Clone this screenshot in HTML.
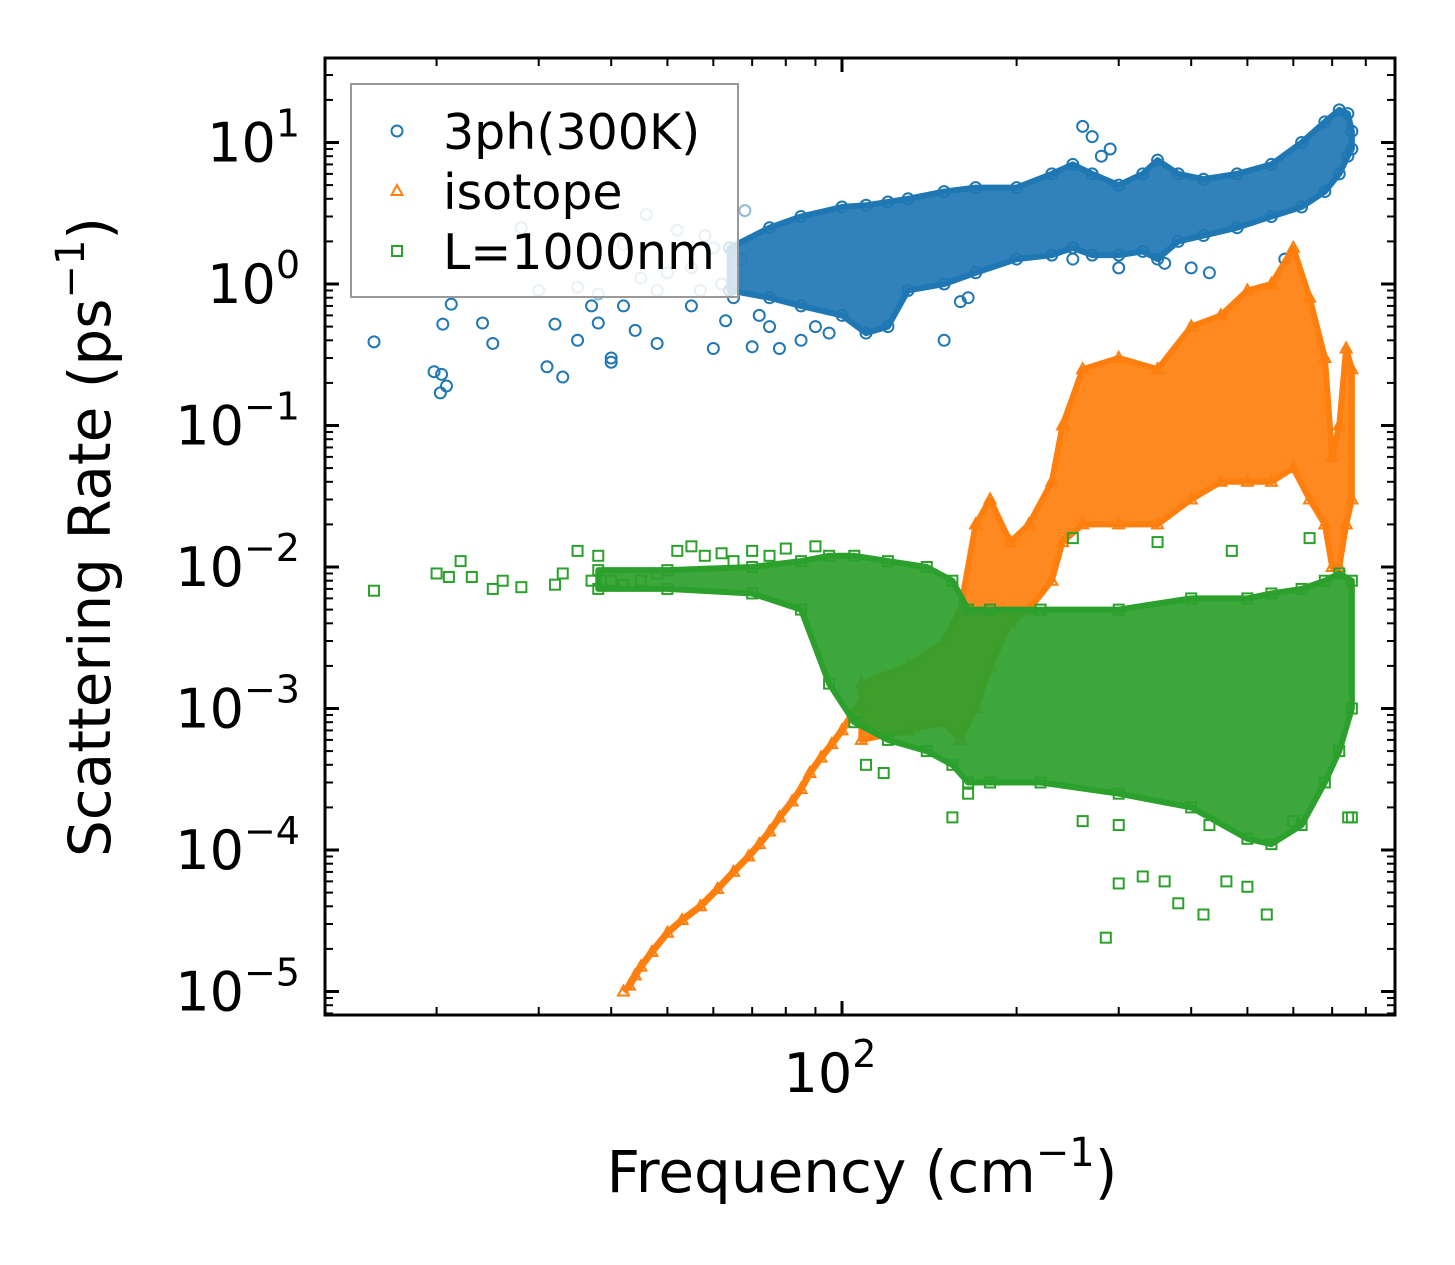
<!DOCTYPE html>
<html><head><meta charset="utf-8"><style>
html,body{margin:0;padding:0;background:#fff}
svg{display:block;font-family:"DejaVu Sans","Liberation Sans",sans-serif}
</style></head><body>
<svg id="chart" width="1455" height="1265" viewBox="0 0 1455 1265" xmlns="http://www.w3.org/2000/svg">
<defs><clipPath id="pc"><rect x="325" y="58" width="1070" height="957"/></clipPath></defs>
<rect width="1455" height="1265" fill="#fff"/>
<g id="bands" clip-path="url(#pc)"></g><g id="marks" clip-path="url(#pc)"></g><g id="axes"></g>
</svg>
<script>
// ---- data (frequency cm^-1, rate ps^-1) ----
const blueFreq = [15.6,19.8,20.3,20.8,20.5,21.2,20.4,24,25,28,31,32,33,35,37,38,40,40,42,44,46,48,50,52,55,57,58,60,62,65,67,68,70,72,75,30,35,38,42,45,48,55,60,63,78,85,90,95,150,160,165,260,270,280,290,250,300,360,400,430,580];
const blueRate = [0.39,0.24,0.17,0.19,0.52,0.72,0.23,0.53,0.38,2.5,0.26,0.52,0.22,0.40,0.70,0.53,0.28,0.30,0.70,0.47,3.1,0.38,1.2,2.4,0.7,0.9,2.2,0.35,1.0,0.8,1.5,3.3,0.36,0.6,0.5,0.9,0.95,0.85,1.9,1.1,0.9,1.3,1.8,0.55,0.35,0.4,0.5,0.45,0.4,0.75,0.8,13,11,8,9,1.5,1.3,1.4,1.3,1.2,1.5];
const blueBandFreq = [64,75,85,100,110,120,130,150,170,200,230,250,270,300,330,350,380,420,480,550,620,680,720,745,757];
const blueBandLow  = [0.9,0.8,0.7,0.6,0.45,0.5,0.9,1.0,1.2,1.5,1.6,1.8,1.6,1.6,1.7,1.5,2,2.2,2.5,3,3.5,4.5,6,8,9];
const blueBandHigh = [1.8,2.5,3,3.5,3.6,3.8,4,4.5,4.8,4.8,6,7,6,5,6,7.5,6,5.5,6,7,10,14,17,16,12];

const orangeFreq = [42,43,44,45,47,50,53,57,61,65,69,72,75,78,82,85,88,92,96,100,104,108];
const orangeRate = [1e-5,1.1e-5,1.3e-5,1.5e-5,1.9e-5,2.6e-5,3.2e-5,4e-5,5.3e-5,7e-5,9e-5,1.1e-4,1.35e-4,1.7e-4,2.2e-4,2.7e-4,3.5e-4,4.5e-4,5.6e-4,7e-4,9e-4,1.1e-3];
const orangeBandFreq = [108,130,150,160,170,180,195,210,230,240,260,300,350,400,450,500,550,600,640,680,700,720,740,757];
const orangeBandLow  = [6e-4,7e-4,8e-4,6e-4,1e-3,2e-3,4e-3,5e-3,8e-3,0.015,0.02,0.02,0.02,0.03,0.04,0.04,0.04,0.05,0.03,0.02,0.01,0.01,0.02,0.03];
const orangeBandHigh = [1.5e-3,2e-3,3e-3,5e-3,0.02,0.03,0.015,0.02,0.04,0.1,0.25,0.3,0.25,0.5,0.6,0.9,1.0,1.8,0.8,0.3,0.06,0.1,0.35,0.25];

const greenFreq = [15.6,20,21,22,23,25,26,28,32,33,35,37,38,40,42,45,48,52,55,58,62,65,70,75,80,90,110,118,155,165,300,330,360,380,420,460,500,540,285,260,300,430,600,757,746,250,350,640,470];
const greenRate = [6.8e-3,9e-3,8.5e-3,1.1e-2,8.5e-3,7e-3,8e-3,7.2e-3,7.5e-3,9e-3,1.3e-2,8e-3,1.2e-2,8e-3,7.5e-3,8e-3,9e-3,1.3e-2,1.4e-2,1.2e-2,1.25e-2,1.1e-2,1.3e-2,1.2e-2,1.35e-2,1.4e-2,4e-4,3.5e-4,1.7e-4,2.5e-4,5.8e-5,6.5e-5,6e-5,4.2e-5,3.5e-5,6e-5,5.5e-5,3.5e-5,2.4e-5,1.6e-4,1.5e-4,1.5e-4,1.6e-4,1.7e-4,1.7e-4,1.6e-2,1.5e-2,1.6e-2,1.3e-2];
const greenBandFreq = [38,50,70,85,95,105,120,140,155,165,180,220,300,400,500,550,620,680,720,757];
const greenBandLow  = [7e-3,7e-3,6.5e-3,5e-3,1.5e-3,8e-4,6e-4,5e-4,4e-4,3e-4,3e-4,3e-4,2.5e-4,2e-4,1.2e-4,1.1e-4,1.5e-4,3e-4,5e-4,1e-3];
const greenBandHigh = [9.5e-3,9.5e-3,1e-2,1.1e-2,1.2e-2,1.2e-2,1.1e-2,1e-2,8e-3,5e-3,5e-3,5e-3,5e-3,6e-3,6e-3,6.5e-3,7e-3,8e-3,9e-3,8e-3];

const yTickExps = [1,0,-1,-2,-3,-4,-5];
const xMajorTicks = [100];
const xMinorTicks = [20,30,40,50,60,70,80,90,200,300,400,500,600,700,800,900];

// ---- axes geometry ----
const L=325,R=1395,T=58,B=1015;
const X0=842, XD=580;
const Y0=284, YD=141.5;
const sx = f => X0 + XD*(Math.log10(f)-2);
const sy = r => Y0 - YD*Math.log10(r);
const NS="http://www.w3.org/2000/svg";
function mk(tag, attrs, parent){const e=document.createElementNS(NS,tag);for(const k in attrs)e.setAttribute(k,attrs[k]);parent.appendChild(e);return e;}
const bands=document.getElementById('bands'), marks=document.getElementById('marks'), axes=document.getElementById('axes');
const C={b:'#1f77b4',o:'#ff7f0e',g:'#2ca02c'};

function marker(kind,x,y,color,parent,op){
  if(kind==='o') return mk('circle',{cx:x,cy:y,r:5.5,fill:'none',stroke:color,'stroke-width':2,opacity:op||1},parent);
  if(kind==='t') return mk('polygon',{points:`${x},${y-6} ${x-5.5},${y+4} ${x+5.5},${y+4}`,fill:'none',stroke:color,'stroke-width':2},parent);
  return mk('rect',{x:x-5,y:y-5,width:10,height:10,fill:'none',stroke:color,'stroke-width':2},parent);
}
function band(fr,lo,hi,color,name,kind,parent){
  const g=mk('g',{},parent);
  
  
  let pts=[];
  fr.forEach((f,i)=>pts.push(sx(f)+','+sy(hi[i])));
  for(let i=fr.length-1;i>=0;i--) pts.push(sx(fr[i])+','+sy(lo[i]));
  mk('polygon',{points:pts.join(' '),fill:color,'fill-opacity':0.92,stroke:color,'stroke-width':6,'stroke-linejoin':'round'},g);
  fr.forEach((f,i)=>{marker(kind,sx(f),sy(lo[i]),color,g);marker(kind,sx(f),sy(hi[i]),color,g);});
}
function series(fr,rt,color,kind,name,parent){
  const g=mk('g',{},parent);
  
  
  fr.forEach((f,i)=>{const op=(kind==='o'&&f<80&&f>26&&rt[i]>0.8)?0.5:1;marker(kind,sx(f),sy(rt[i]),color,g,op);});
}
band(blueBandFreq,blueBandLow,blueBandHigh,C.b,'series-3ph-band','o',bands);
series(blueFreq,blueRate,C.b,'o','series-3ph-points',bands);
band(orangeBandFreq,orangeBandLow,orangeBandHigh,C.o,'series-isotope-band','t',bands);
const oline=mk('polyline',{points:orangeFreq.map((f,i)=>sx(f)+','+sy(orangeRate[i])).join(' '),fill:'none',stroke:C.o,'stroke-width':7},bands);


series(orangeFreq,orangeRate,C.o,'t','series-isotope-points',bands);
band(greenBandFreq,greenBandLow,greenBandHigh,C.g,'series-boundary-band','s',marks);
series(greenFreq,greenRate,C.g,'s','series-boundary-points',marks);

// frame
const fr=mk('rect',{x:L,y:T,width:R-L,height:B-T,fill:'none',stroke:'#000','stroke-width':3},axes);


yTickExps.forEach(e=>{
  const y=sy(Math.pow(10,e));
  mk('line',{x1:L,x2:L+14,y1:y,y2:y,stroke:'#000','stroke-width':3},axes);
  mk('line',{x1:R,x2:R-14,y1:y,y2:y,stroke:'#000','stroke-width':3},axes);
  const t=mk('text',{x:300,y:y+19,'text-anchor':'end','font-size':54},axes);
  
  
  const s=e<0?'\u2212'+(-e):''+e;
  t.innerHTML='10<tspan dy="-25" font-size="38">'+s+'</tspan>';
  for(let m=2;m<=9;m++){
    const ym=sy(m*Math.pow(10,e-1));
    if(ym>T&&ym<B){
      mk('line',{x1:L,x2:L+8,y1:ym,y2:ym,stroke:'#000','stroke-width':2},axes);
      mk('line',{x1:R,x2:R-8,y1:ym,y2:ym,stroke:'#000','stroke-width':2},axes);
    }
  }
});
for(let m=2;m<=9;m++){const ym=sy(m*10);if(ym>T){mk('line',{x1:L,x2:L+8,y1:ym,y2:ym,stroke:'#000','stroke-width':2},axes);mk('line',{x1:R,x2:R-8,y1:ym,y2:ym,stroke:'#000','stroke-width':2},axes);}}
xMajorTicks.forEach(f=>{
  const x=sx(f);
  mk('line',{x1:x,x2:x,y1:B,y2:B-14,stroke:'#000','stroke-width':3},axes);
  mk('line',{x1:x,x2:x,y1:T,y2:T+14,stroke:'#000','stroke-width':3},axes);
  const t=mk('text',{x:x-12,y:1092,'text-anchor':'middle','font-size':54},axes);
  
  
  t.innerHTML='10<tspan dy="-25" font-size="38">2</tspan>';
});
xMinorTicks.forEach(f=>{
  const x=sx(f);
  mk('line',{x1:x,x2:x,y1:B,y2:B-8,stroke:'#000','stroke-width':2},axes);
  mk('line',{x1:x,x2:x,y1:T,y2:T+8,stroke:'#000','stroke-width':2},axes);
});
const xt=mk('text',{x:862,y:1192,'text-anchor':'middle','font-size':58},axes);


xt.innerHTML='Frequency (cm<tspan dy="-26" font-size="40">\u22121</tspan><tspan dy="26">)</tspan>';
const yt=mk('text',{x:0,y:0,'text-anchor':'middle','font-size':58,transform:'translate(110,537) rotate(-90)'},axes);


yt.innerHTML='Scattering Rate (ps<tspan dy="-26" font-size="40">\u22121</tspan><tspan dy="26">)</tspan>';
const lg=mk('g',{},axes);


mk('rect',{x:351,y:84,width:387,height:213,fill:'#fff','fill-opacity':0.8,stroke:'#999','stroke-width':2},lg);
[['o',C.b,'3ph(300K)',131],['t',C.o,'isotope',191],['s',C.g,'L=1000nm',251]].forEach(([k,c,lab,y])=>{
  const e=mk('g',{},lg);
  
  
  marker(k,397,y,c,e);
  const t=mk('text',{x:443,y:y+18,'font-size':49},e);
  t.textContent=lab;
});
</script>
</body></html>
